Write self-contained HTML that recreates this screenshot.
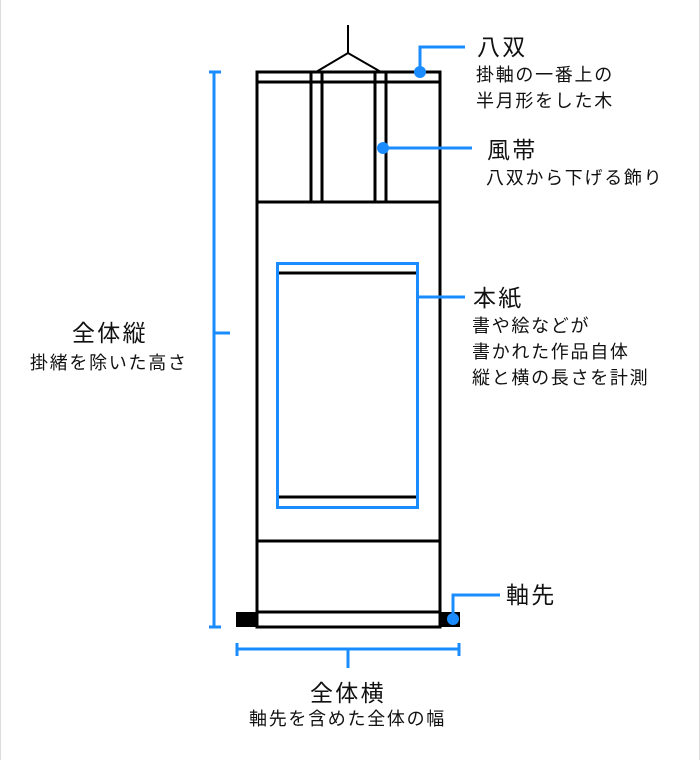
<!DOCTYPE html>
<html><head><meta charset="utf-8"><style>
html,body{margin:0;padding:0;background:#fff}
body{width:700px;height:760px;overflow:hidden;position:relative;font-family:"Liberation Sans","Noto Sans CJK JP",sans-serif;color:#111}
.t{position:absolute;white-space:nowrap}
.h{font-size:23px;letter-spacing:2.3px;line-height:26px}
.s{font-size:18px;line-height:26px;letter-spacing:1.7px}
</style></head><body>
<svg width="700" height="760" style="position:absolute;left:0;top:0">
<rect x="0.5" y="-1" width="699" height="762" fill="none" stroke="#ddd"/>
<g stroke="#000" stroke-width="3" fill="none">
<line x1="348" y1="25" x2="348" y2="53" stroke-width="2"/>
<polyline points="316,72 348,53 381,72" stroke-width="2"/>
<rect x="257" y="72" width="183" height="555"/>
<line x1="257" y1="82" x2="440" y2="82"/>
<rect x="311" y="72" width="11" height="130"/>
<rect x="375" y="72" width="11" height="130"/>
<line x1="257" y1="202" x2="440" y2="202"/>
<line x1="257" y1="541" x2="440" y2="541"/>
<line x1="257" y1="612" x2="440" y2="612"/>
<line x1="278" y1="273" x2="417" y2="273"/>
<line x1="278" y1="497" x2="417" y2="497"/>
</g>
<rect x="236" y="612" width="20" height="15" fill="#000"/>
<rect x="440" y="612" width="20" height="15" fill="#000"/>
<g stroke="#1a8cff" stroke-width="3" fill="none">
<rect x="277.5" y="263.5" width="140" height="244"/>
<line x1="214" y1="72" x2="214" y2="627"/>
<line x1="209" y1="72" x2="221" y2="72"/>
<line x1="209" y1="627" x2="221" y2="627"/>
<line x1="214" y1="333" x2="230" y2="333"/>
<line x1="236" y1="649" x2="460" y2="649"/>
<line x1="237" y1="643" x2="237" y2="656"/>
<line x1="459" y1="643" x2="459" y2="656"/>
<line x1="348" y1="649" x2="348" y2="668"/>
<polyline points="420,72 420,47 465,47"/>
<line x1="383" y1="148" x2="472" y2="148"/>
<line x1="418" y1="297" x2="465" y2="297"/>
<polyline points="453,619 453,595 500,595"/>
</g>
<g fill="#1a8cff">
<circle cx="420" cy="72" r="6"/>
<circle cx="383" cy="148" r="6"/>
<circle cx="453" cy="619" r="6"/>
</g>
</svg>
<div class="t h" style="left:477px;top:34px">八双</div>
<div class="t s" style="left:476px;top:62px">掛軸の一番上の<br>半月形をした木</div>
<div class="t h" style="left:487px;top:137px">風帯</div>
<div class="t s" style="left:486px;top:165px">八双から下げる飾り</div>
<div class="t h" style="left:473px;top:285px">本紙</div>
<div class="t s" style="left:472px;top:313px">書や絵などが<br>書かれた作品自体<br>縦と横の長さを計測</div>
<div class="t h" style="left:506px;top:582px">軸先</div>
<div class="t h" style="left:72px;top:320px">全体縦</div>
<div class="t s" style="left:30px;top:350px">掛緒を除いた高さ</div>
<div class="t h" style="left:310px;top:680px">全体横</div>
<div class="t s" style="left:249px;top:706px">軸先を含めた全体の幅</div>
</body></html>
